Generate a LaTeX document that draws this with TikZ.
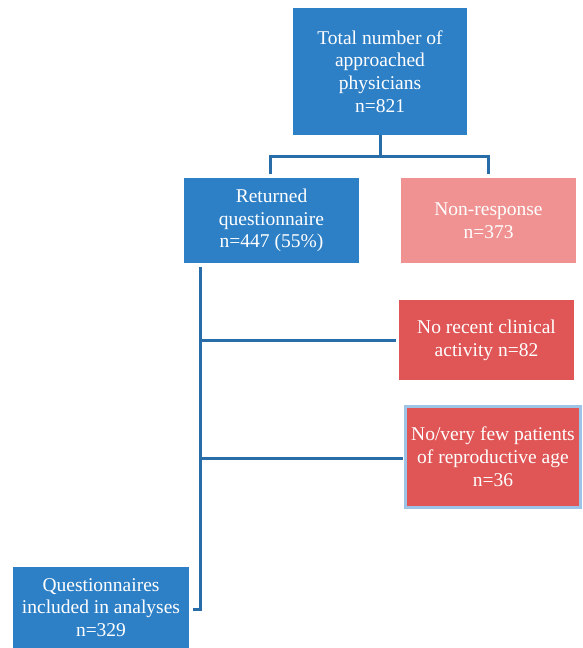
\documentclass[tikz,border=0pt]{standalone}
\usepackage{fontspec}
\setmainfont{Liberation Serif}
\definecolor{bluebox}{RGB}{46,128,198}
\definecolor{pinkbox}{RGB}{240,146,146}
\definecolor{redbox}{RGB}{224,86,86}
\definecolor{lineblue}{RGB}{40,108,168}
\definecolor{edgeblue}{RGB}{157,195,230}
\begin{document}
\begin{tikzpicture}[x=1pt,y=-1pt,
  box/.style={draw=none,text=white,align=center,inner sep=0pt,font=\fontsize{19.5}{22.8}\selectfont,minimum width=#1},
  conn/.style={draw=lineblue,line width=3pt}]
\useasboundingbox (0,0) rectangle (582,648);
% boxes
\fill[bluebox] (293,8) rectangle (467,135);
\node[box=174pt] (total) at (380,71.5) {Total number of\\approached\\physicians\\n=821};
\fill[bluebox] (184,178) rectangle (359,263);
\node[box=175pt] (ret) at (271.5,220.5) {Returned\\questionnaire\\n=447 (55\%)};
\fill[pinkbox] (401,178) rectangle (576,263);
\node[box=175pt] (non) at (488.5,220.5) {Non-response\\n=373};
\fill[redbox] (399,300) rectangle (574,380);
\node[box=175pt] (rec) at (486.5,340) {No recent clinical\\activity n=82};
\fill[redbox,draw=edgeblue,line width=3pt] (405.5,406.5) rectangle (580.5,507.5);
\node[box=175pt] (few) at (493,457) {No/very few patients\\of reproductive age\\n=36};
\fill[bluebox] (13,567) rectangle (189,648);
\node[box=176pt] (inc) at (101,607.5) {Questionnaires\\included in analyses\\n=329};
% connector coordinates
\coordinate (t0) at (380,135);
\coordinate (t1) at (380,156);
\coordinate (tl) at (270,156);
\coordinate (tr) at (488,156);
\coordinate (tl2) at (270,174);
\coordinate (tr2) at (488,174);
\coordinate (v0) at (200,267);
\coordinate (v1) at (200,609);
\coordinate (h1) at (200,340);
\coordinate (h1e) at (396,340);
\coordinate (h2) at (200,458);
\coordinate (h2e) at (403,458);
\coordinate (b1) at (193,609);
% connectors
\draw[conn] (t0) -- (t1);
\draw[conn] (tl2) -- (tl) -- (tr) -- (tr2);
\draw[conn] (v0) -- (v1) -- (b1);
\draw[conn] (h1) -- (h1e);
\draw[conn] (h2) -- (h2e);
\end{tikzpicture}
\end{document}
